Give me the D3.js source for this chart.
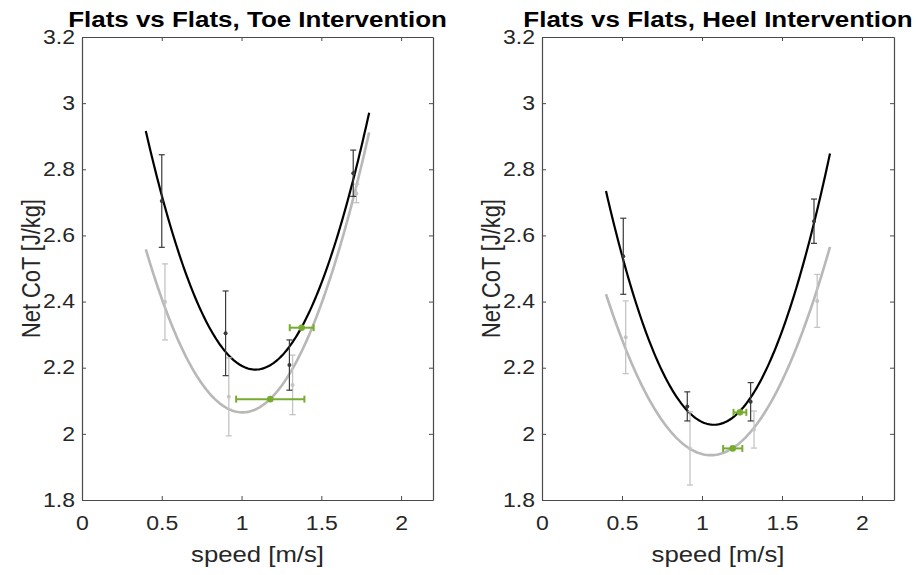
<!DOCTYPE html>
<html>
<head>
<meta charset="utf-8">
<script src="https://cdn.jsdelivr.net/npm/d3@7"></script>
<style>
  html, body { margin: 0; padding: 0; background: #fff; }
  svg { display: block; font-family: Arial, "Liberation Sans", Helvetica, sans-serif; }
</style>
</head>
<body>
<svg id="fig" width="918" height="575"></svg>
<script>
// Panel titles
const titles = ["Flats vs Flats, Toe Intervention", "Flats vs Flats, Heel Intervention"];

// Axis ticks
const xTicks = [0, 0.5, 1, 1.5, 2];
const yTicks = [1.8, 2, 2.2, 2.4, 2.6, 2.8, 3, 3.2];
const xLabel = "speed [m/s]";
const yLabel = "Net CoT [J/kg]";

// Toe intervention: per-speed means and standard deviations
const toeBlackSpeed = [0.50, 0.90, 1.30, 1.70];
const toeBlackCoT   = [2.704, 2.304, 2.208, 2.788];
const toeBlackErr   = [0.140, 0.128, 0.076, 0.070];
const toeGraySpeed  = [0.52, 0.92, 1.32, 1.72];
const toeGrayCoT    = [2.399, 2.112, 2.148, 2.727];
const toeGrayErr    = [0.115, 0.118, 0.090, 0.028];
// Self-selected speed (mean +/- sd in speed)
const toeGreenSpeed = [1.377, 1.180];
const toeGreenCoT   = [2.321, 2.105];
const toeGreenErr   = [0.075, 0.214];
// Quadratic fits [p2, p1, p0]
const toeBlackFit = [1.528, -3.322, 4.000];
const toeGrayFit  = [1.343, -2.702, 3.424];

// Heel intervention
const heelBlackSpeed = [0.508, 0.908, 1.304, 1.700];
const heelBlackCoT   = [2.537, 2.083, 2.097, 2.643];
const heelBlackErr   = [0.115, 0.044, 0.058, 0.067];
const heelGraySpeed  = [0.523, 0.925, 1.325, 1.720];
const heelGrayCoT    = [2.292, 1.956, 2.013, 2.402];
const heelGrayErr    = [0.110, 0.111, 0.056, 0.080];
const heelGreenSpeed = [1.237, 1.192];
const heelGreenCoT   = [2.065, 1.956];
const heelGreenErr   = [0.040, 0.060];
const heelBlackFit = [1.556, -3.342, 3.822];
const heelGrayFit  = [1.135, -2.395, 3.199];

// Fit curves are drawn over this speed range
const fitRange = [0.4, 1.8];

const panels = [
  { left: 82, right: 433, title: titles[0],
    black: { x: toeBlackSpeed, y: toeBlackCoT, e: toeBlackErr, fit: toeBlackFit },
    gray:  { x: toeGraySpeed,  y: toeGrayCoT,  e: toeGrayErr,  fit: toeGrayFit },
    green: { x: toeGreenSpeed, y: toeGreenCoT, e: toeGreenErr } },
  { left: 542, right: 894, title: titles[1],
    black: { x: heelBlackSpeed, y: heelBlackCoT, e: heelBlackErr, fit: heelBlackFit },
    gray:  { x: heelGraySpeed,  y: heelGrayCoT,  e: heelGrayErr,  fit: heelGrayFit },
    green: { x: heelGreenSpeed, y: heelGreenCoT, e: heelGreenErr } }
];

const plotTop = 37, plotBottom = 500;
const axisColor = "#4a4a4a";
const textColor = "#262626";
// Figure text is set slightly wide
const stretch = 1.18;
const svg = d3.select("#fig");

panels.forEach(p => {
  const x = d3.scaleLinear().domain([0, 2.2]).range([p.left, p.right]);
  const y = d3.scaleLinear().domain([1.8, 3.2]).range([plotBottom, plotTop]);
  const g = svg.append("g");

  const fitLine = d3.line().x(d => x(d[0])).y(d => y(d[1]));
  const poly = c => v => c[0] * v * v + c[1] * v + c[2];
  const sampleFit = c => d3.range(0, 141).map(i => {
    const v = fitRange[0] + (fitRange[1] - fitRange[0]) * i / 140;
    return [v, poly(c)(v)];
  });

  // Gray condition (behind)
  g.append("path").attr("d", fitLine(sampleFit(p.gray.fit)))
    .attr("fill", "none").attr("stroke", "#b8b8b8").attr("stroke-width", 2.6);
  // Black condition
  g.append("path").attr("d", fitLine(sampleFit(p.black.fit)))
    .attr("fill", "none").attr("stroke", "#000").attr("stroke-width", 2.2);

  const vErr = (s, color, w) => {
    s.x.forEach((sx, i) => {
      const cx = x(sx), y0 = y(s.y[i] - s.e[i]), y1 = y(s.y[i] + s.e[i]);
      g.append("line").attr("x1", cx).attr("x2", cx).attr("y1", y0).attr("y2", y1)
        .attr("stroke", color).attr("stroke-width", w);
      [y0, y1].forEach(yy => g.append("line").attr("x1", cx - 3).attr("x2", cx + 3)
        .attr("y1", yy).attr("y2", yy).attr("stroke", color).attr("stroke-width", w));
      g.append("circle").attr("cx", cx).attr("cy", y(s.y[i])).attr("r", 2).attr("fill", color);
    });
  };
  vErr(p.gray, "#c4c4c4", 1.3);
  vErr(p.black, "#3a3a3a", 1.2);

  // Self-selected speed
  const green = "#77ac30";
  p.green.x.forEach((sx, i) => {
    const cy = y(p.green.y[i]), x0 = x(sx - p.green.e[i]), x1 = x(sx + p.green.e[i]);
    g.append("line").attr("x1", x0).attr("x2", x1).attr("y1", cy).attr("y2", cy)
      .attr("stroke", green).attr("stroke-width", 2);
    [x0, x1].forEach(xx => g.append("line").attr("x1", xx).attr("x2", xx)
      .attr("y1", cy - 3.5).attr("y2", cy + 3.5).attr("stroke", green).attr("stroke-width", 2));
    g.append("circle").attr("cx", x(sx)).attr("cy", cy).attr("r", 3.3).attr("fill", green);
  });

  // Box axes with inward ticks
  const styleAxis = a => {
    a.select(".domain").attr("stroke", axisColor).attr("stroke-width", 1.2);
    a.selectAll(".tick line").attr("stroke", axisColor);
    a.selectAll(".tick text").attr("fill", textColor).style("font-size", "19.5px")
      .style("font-family", "Arial, 'Liberation Sans', sans-serif")
      .each(function () {
        const t = d3.select(this);
        const tx = +t.attr("x") || 0;
        t.attr("x", 0).attr("transform", `translate(${tx},0) scale(${stretch},1)`);
      });
  };
  const xb = g.append("g").attr("transform", `translate(0,${plotBottom})`)
    .call(d3.axisBottom(x).tickValues(xTicks).tickSizeInner(-4).tickSizeOuter(0)
      .tickPadding(16.5).tickFormat(d3.format("")));
  styleAxis(xb);
  const xt = g.append("g").attr("transform", `translate(0,${plotTop})`)
    .call(d3.axisTop(x).tickValues(xTicks).tickSizeInner(-4).tickSizeOuter(0).tickFormat(""));
  styleAxis(xt);
  const yl = g.append("g").attr("transform", `translate(${p.left},0)`)
    .call(d3.axisLeft(y).tickValues(yTicks).tickSizeInner(-4).tickSizeOuter(0)
      .tickPadding(7).tickFormat(d3.format("")));
  styleAxis(yl);
  const yr = g.append("g").attr("transform", `translate(${p.right},0)`)
    .call(d3.axisRight(y).tickValues(yTicks).tickSizeInner(-4).tickSizeOuter(0).tickFormat(""));
  styleAxis(yr);

  const cx = (p.left + p.right) / 2;
  g.append("text").attr("transform", `translate(${cx},27) scale(${stretch},1)`)
    .attr("text-anchor", "middle")
    .attr("fill", "#000").style("font-size", "22px").style("font-weight", "bold")
    .text(p.title);
  g.append("text").attr("transform", `translate(${cx},562) scale(${stretch},1)`)
    .attr("text-anchor", "middle")
    .attr("fill", textColor).style("font-size", "21.8px").text(xLabel);
  g.append("text")
    .attr("transform", `translate(${p.left - 42},${(plotTop + plotBottom) / 2}) scale(${stretch},1) rotate(-90)`)
    .attr("text-anchor", "middle").attr("fill", textColor).style("font-size", "21.8px")
    .text(yLabel);
});
</script>
</body>
</html>
